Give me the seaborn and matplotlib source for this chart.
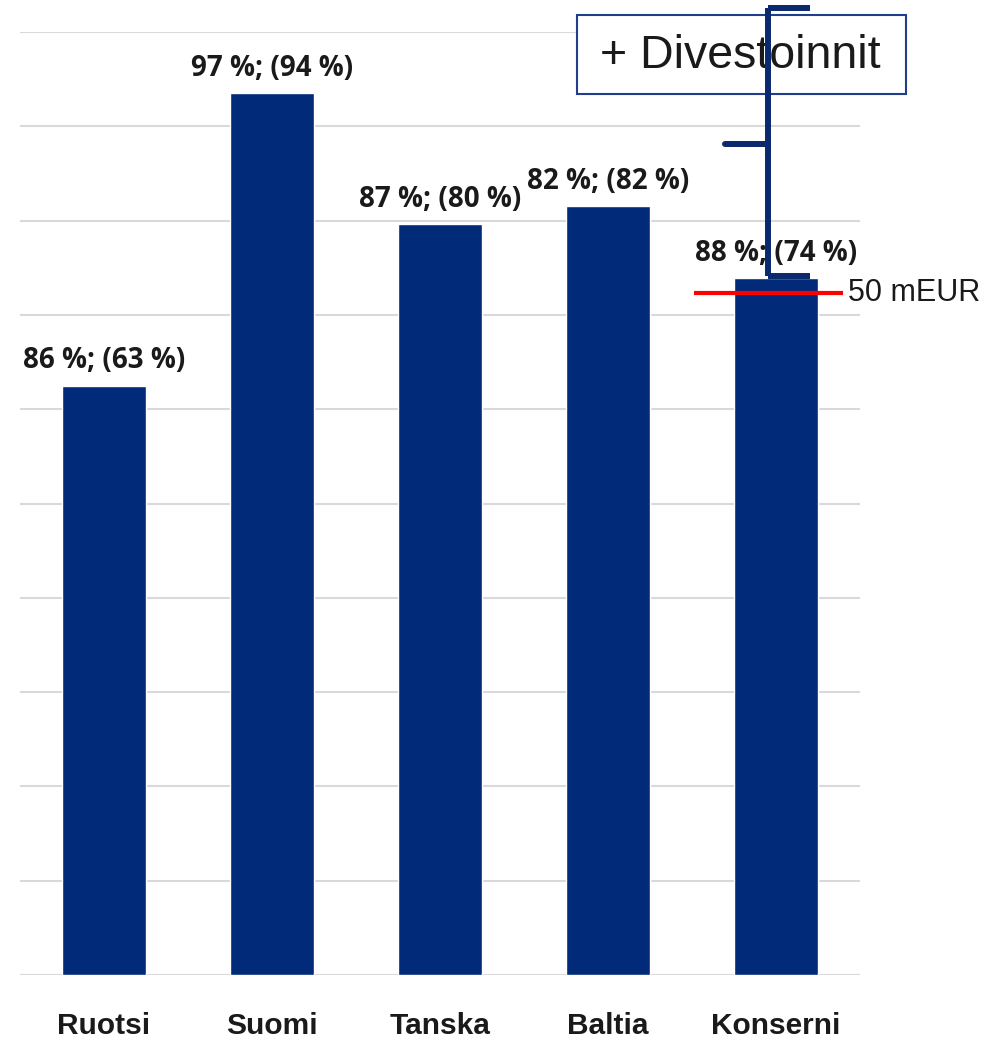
import matplotlib
matplotlib.use("Agg")
import matplotlib.pyplot as plt
import seaborn as sns
from matplotlib import font_manager as fm
from matplotlib.patches import Rectangle

# data
categories = ['Ruotsi', 'Suomi', 'Tanska', 'Baltia', 'Konserni']
values = [62.5, 93.5, 79.6, 81.5, 73.9]
labels = ['86 %; (63 %)', '97 %; (94 %)', '87 %; (80 %)', '82 %; (82 %)', '88 %; (74 %)']
threshold_value = 72.3
threshold_label = '50 mEUR'
bracket_top = 102.5
bracket_mid = 88.1
bracket_bottom = 74.1
box_text = '+ Divestoinnit'

navy = '#012a78'

sns.set_theme(style="white")
plt.rcParams['font.family'] = ['Liberation Sans', 'DejaVu Sans']

# pick a regular-width bold Open Sans file for the value labels
label_font = fm.FontProperties(family=['Lato', 'DejaVu Sans'], weight='bold', size=20)
for f in fm.fontManager.ttflist:
    if (f.name == 'Open Sans' and f.weight in (700, 'bold') and f.style == 'normal'
            and f.stretch in ('normal', 500) and 'ondensed' not in f.fname):
        label_font = fm.FontProperties(fname=f.fname, size=20)
        break

fig = plt.figure(figsize=(10.02, 10.37), dpi=100)
ax = fig.add_axes([20 / 1002, 1 - 975 / 1037, 840 / 1002, 943 / 1037])

sns.barplot(x=categories, y=values, color=navy, width=0.5, saturation=1, ax=ax, zorder=2)

ax.set_xlim(-0.5, 4.5)
ax.set_ylim(0, 100)
ax.set_yticks(range(0, 101, 10))
ax.set_yticklabels([])
ax.yaxis.grid(True, color='#d9d9d9', linewidth=1.5, zorder=0)
ax.set_axisbelow(True)
ax.tick_params(left=False, bottom=False, axis='both', length=0)
for s in ax.spines.values():
    s.set_visible(False)
ax.set_xlabel('')
ax.set_ylabel('')
ax.set_xticks(range(len(categories)))
ax.set_xticklabels(categories, fontsize=21.5, fontweight='bold', color='#1a1a1a')
ax.tick_params(axis='x', pad=26.5)

# bar labels
for i, (v, lab) in enumerate(zip(values, labels)):
    ax.annotate(lab, (i, v), xytext=(0, 12.5), textcoords='offset points',
                ha='center', va='baseline', fontproperties=label_font,
                color='#1a1a1a', zorder=6)

# red threshold line
ax.plot([3.512, 4.399], [threshold_value] * 2, color='#ff0000', lw=3, zorder=5,
        clip_on=False, solid_capstyle='butt')
ax.text(4.43, threshold_value, threshold_label, fontsize=22, va='center', ha='left',
        color='#1a1a1a')

# bracket
bc = '#0b2a6e'
ax.plot([3.952, 3.952], [bracket_top, bracket_bottom], color=bc, lw=4.3, zorder=7,
        clip_on=False, solid_capstyle='butt')
ax.plot([3.952, 4.202], [bracket_top] * 2, color=bc, lw=4.3, zorder=7, clip_on=False,
        solid_capstyle='butt')
ax.plot([3.696, 3.952], [bracket_mid] * 2, color=bc, lw=4.3, zorder=7, clip_on=False,
        solid_capstyle='round')
ax.plot([3.952, 4.202], [bracket_bottom] * 2, color=bc, lw=4.3, zorder=7, clip_on=False,
        solid_capstyle='butt')

# text box
ax.add_patch(Rectangle((577 / 1002, 1 - 94 / 1037), 329 / 1002, 79 / 1037,
                       transform=fig.transFigure, facecolor='white', edgecolor='#1f3f8a',
                       lw=1.5, clip_on=False, zorder=4))
ax.text(740 / 1002, 1 - 56 / 1037, box_text, transform=fig.transFigure, fontsize=33.5,
        ha='center', va='center', color='#1a1a1a', zorder=4.5)

fig.savefig('out.png', dpi=100)
